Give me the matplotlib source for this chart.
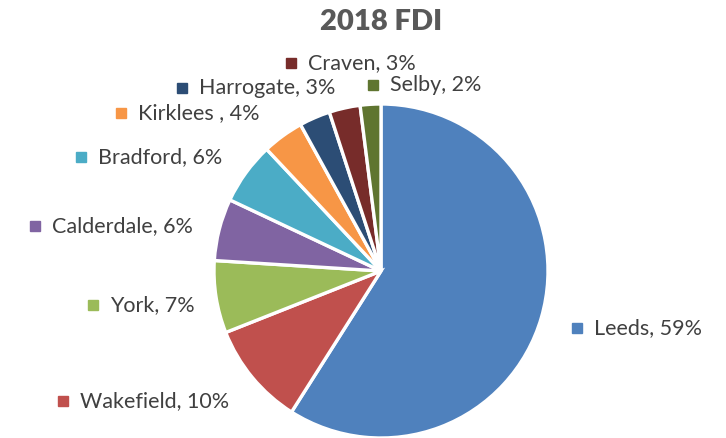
import matplotlib.pyplot as plt

# Data
regions = ['Leeds', 'Wakefield', 'York', 'Calderdale', 'Bradford',
           'Kirklees ', 'Harrogate', 'Craven', 'Selby']
shares = [59, 10, 7, 6, 6, 4, 3, 3, 2]
colors = ['#4F81BD', '#C0504D', '#9BBB59', '#8064A2', '#4BACC6',
          '#F79646', '#2C4D75', '#772C2A', '#5F7530']

# label anchor (marker x, y) in pixel coords from top-left
label_pos = [(577, 328), (63, 401), (93, 305), (35, 226), (81, 157),
             (121, 113), (182, 88), (291, 63), (373, 85)]

W, H = 726, 438
fig = plt.figure(figsize=(W / 100, H / 100), dpi=100)
ax = fig.add_axes([0, 0, 1, 1])

ax.pie(shares, colors=colors, startangle=90, counterclock=False,
       center=(381, H - 271), radius=167, frame=True,
       wedgeprops=dict(edgecolor='white', linewidth=2.4))
ax.set_xlim(0, W)
ax.set_ylim(0, H)
ax.set_aspect('equal')
ax.axis('off')

for name, val, c, (mx, my) in zip(regions, shares, colors, label_pos):
    ax.plot(mx, H - my, marker='s', markersize=6.5, color=c, linestyle='none')
    ax.text(mx + 17, H - my, f'{name}, {val}%', fontsize=15.5, family='Lato',
            color='#404040', va='center', ha='left')

ax.text(381, H - 22, '2018 FDI', fontsize=21, fontweight='heavy', family='Lato',
        color='#595959', ha='center', va='center')

fig.savefig('out.png', dpi=100)
